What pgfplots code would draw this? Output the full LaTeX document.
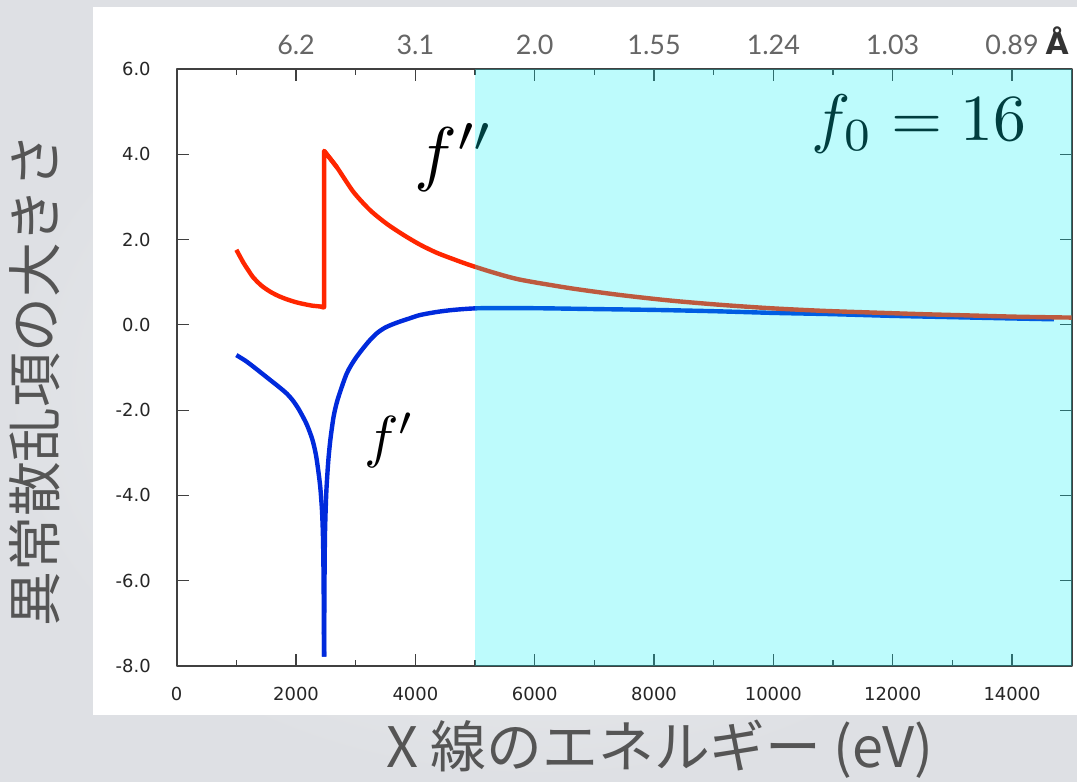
\documentclass[border=0pt]{standalone}
\usepackage[no-math]{fontspec}
\usepackage{pgfplots}
\pgfplotsset{compat=1.18}
\newfontfamily\dejavu{DejaVu Sans}
\newfontfamily\lato{Lato}
\newfontfamily\jp{Noto Sans CJK JP}

\definecolor{bgin}{RGB}{241,242,244}
\definecolor{bgout}{RGB}{222,224,228}
\definecolor{fpp}{RGB}{255,38,0}
\definecolor{fp}{RGB}{0,42,220}
\definecolor{hl}{RGB}{0,240,245}
\definecolor{lbl}{RGB}{85,85,85}

\begin{document}
\begin{tikzpicture}
% slide background and white plot panel
\shade[inner color=bgin, outer color=bgout] (0,0) rectangle (538.5bp,391bp);
\fill[white] (46.5bp,33.5bp) rectangle (538.5bp,387.5bp);

\pgfplotsset{
  frame/.style={
    at={(88.35bp,58bp)}, anchor=south west,
    scale only axis, width=447.5bp, height=298.5bp,
    xmin=0, xmax=15000, ymin=-8, ymax=6,
    scaled x ticks=false, scaled y ticks=false,
  },
  curve/.style={line width=2.2bp, smooth, tension=0.45},
}

\begin{axis}[frame,
  xtick={0,2000,...,14000},
  xticklabels={0,2000,4000,6000,8000,10000,12000,14000},
  minor xtick={1000,3000,...,13000},
  ytick={-8,-6,...,6},
  yticklabels={-8.0,-6.0,-4.0,-2.0,0.0,2.0,4.0,6.0},
  tick label style={font=\dejavu\fontsize{9}{10}\selectfont, text=black!85},
  xticklabel style={yshift=-7bp},
  yticklabel style={xshift=-9.5bp},
  axis line style={black!75, line width=0.8bp},
  tick style={black!75, line width=0.6bp},
  major tick length=6bp, minor tick length=3bp,
  line join=round,
]
% f' (anomalous dispersion, real part): below and above the K edge
\addplot[fp, curve] coordinates {
  (1000,-0.71) (1150,-0.84) (1284,-0.98) (1420,-1.13) (1564,-1.29)
  (1700,-1.44) (1843,-1.61) (1950,-1.78) (2050,-1.99) (2178,-2.33)
  (2276,-2.70) (2340,-3.10) (2402,-3.75) (2435,-4.35) (2452,-5.00)
  (2462,-6.00) (2470,-7.78)
};
\addplot[fp, curve] coordinates {
  (2470,-7.78) (2476,-6.20) (2484,-5.00) (2495,-4.40)
  (2510,-3.85) (2540,-3.20) (2575,-2.70) (2630,-2.15) (2700,-1.74)
  (2850,-1.14) (3000,-0.78) (3200,-0.42) (3352,-0.20)
  (3500,-0.06) (3688,0.05) (3900,0.15) (4078,0.23) (4350,0.30)
  (4637,0.35) (5084,0.39) (6000,0.39) (7000,0.37) (8000,0.35)
  (9000,0.32) (10000,0.28) (11000,0.25) (12000,0.21) (13000,0.18)
  (14000,0.15) (14700,0.13)
};
% f'' (absorption part): below the edge, the jump, above the edge
\addplot[fpp, curve] coordinates {
  (1000,1.76) (1117,1.46) (1200,1.28) (1284,1.11) (1420,0.92)
  (1564,0.78) (1700,0.68) (1843,0.60) (2000,0.53) (2122,0.49)
  (2270,0.45) (2402,0.43) (2470,0.41)
};
\addplot[fpp, line width=2.2bp] coordinates {
  (2402,0.43) (2470,0.41) (2470,4.08) (2682,3.70)
};
\addplot[fpp, curve] coordinates {
  (2470,4.08) (2682,3.70)
  (2960,3.12) (3240,2.69) (3520,2.37) (3799,2.11) (4078,1.88)
  (4358,1.69) (4637,1.54) (4916,1.40) (5300,1.23) (5754,1.06)
  (6592,0.86) (7430,0.70) (8268,0.57) (9106,0.47) (9944,0.39)
  (10800,0.33) (11620,0.29) (12500,0.25) (13296,0.22) (14100,0.19)
  (15000,0.17)
};
\node[anchor=west, inner sep=0, scale=3.6] at (axis cs:3961,3.93) {$f''$};
\node[anchor=west, inner sep=0, scale=2.9] at (axis cs:3123,-2.72) {$f'$};
\node[anchor=east, inner sep=0, scale=3.3] at (axis cs:14270,4.71) {$f_0 = 16$};
\coordinate (ovSW) at (axis cs:5000,-8);
\coordinate (ovNE) at (axis cs:15000,6);
\end{axis}

% wavelength scale along the top
\begin{axis}[frame,
  axis x line*=top, axis y line=none,
  x axis line style={draw=none},
  major tick length=0pt,
  xtick={2000,4000,...,14000},
  xticklabels={6.2,3.1,2.0,1.55,1.24,1.03,{0.89\rlap{\ {\dejavu\bfseries\fontsize{15}{15}\selectfont\color{black!80}Å}}}},
  xticklabel style={font=\lato\fontsize{13.5}{15}\selectfont, text=black!60, yshift=3.5bp},
]
\addplot[draw=none] coordinates {(0,0)};
\end{axis}

% highlighted energy range
\fill[hl, fill opacity=0.26] (ovSW) rectangle (ovNE);

\node[rotate=90, font=\jp\fontsize{27.5}{30}\selectfont, text=lbl] at (17.5bp,201bp) {異常散乱項の大きさ};
\node[font=\jp\fontsize{28}{30}\selectfont, text=lbl] at (330bp,16.5bp) {X 線のエネルギー (eV)};

\pgfresetboundingbox
\useasboundingbox (0,0) rectangle (538.5bp,391bp);
\end{tikzpicture}
\end{document}
